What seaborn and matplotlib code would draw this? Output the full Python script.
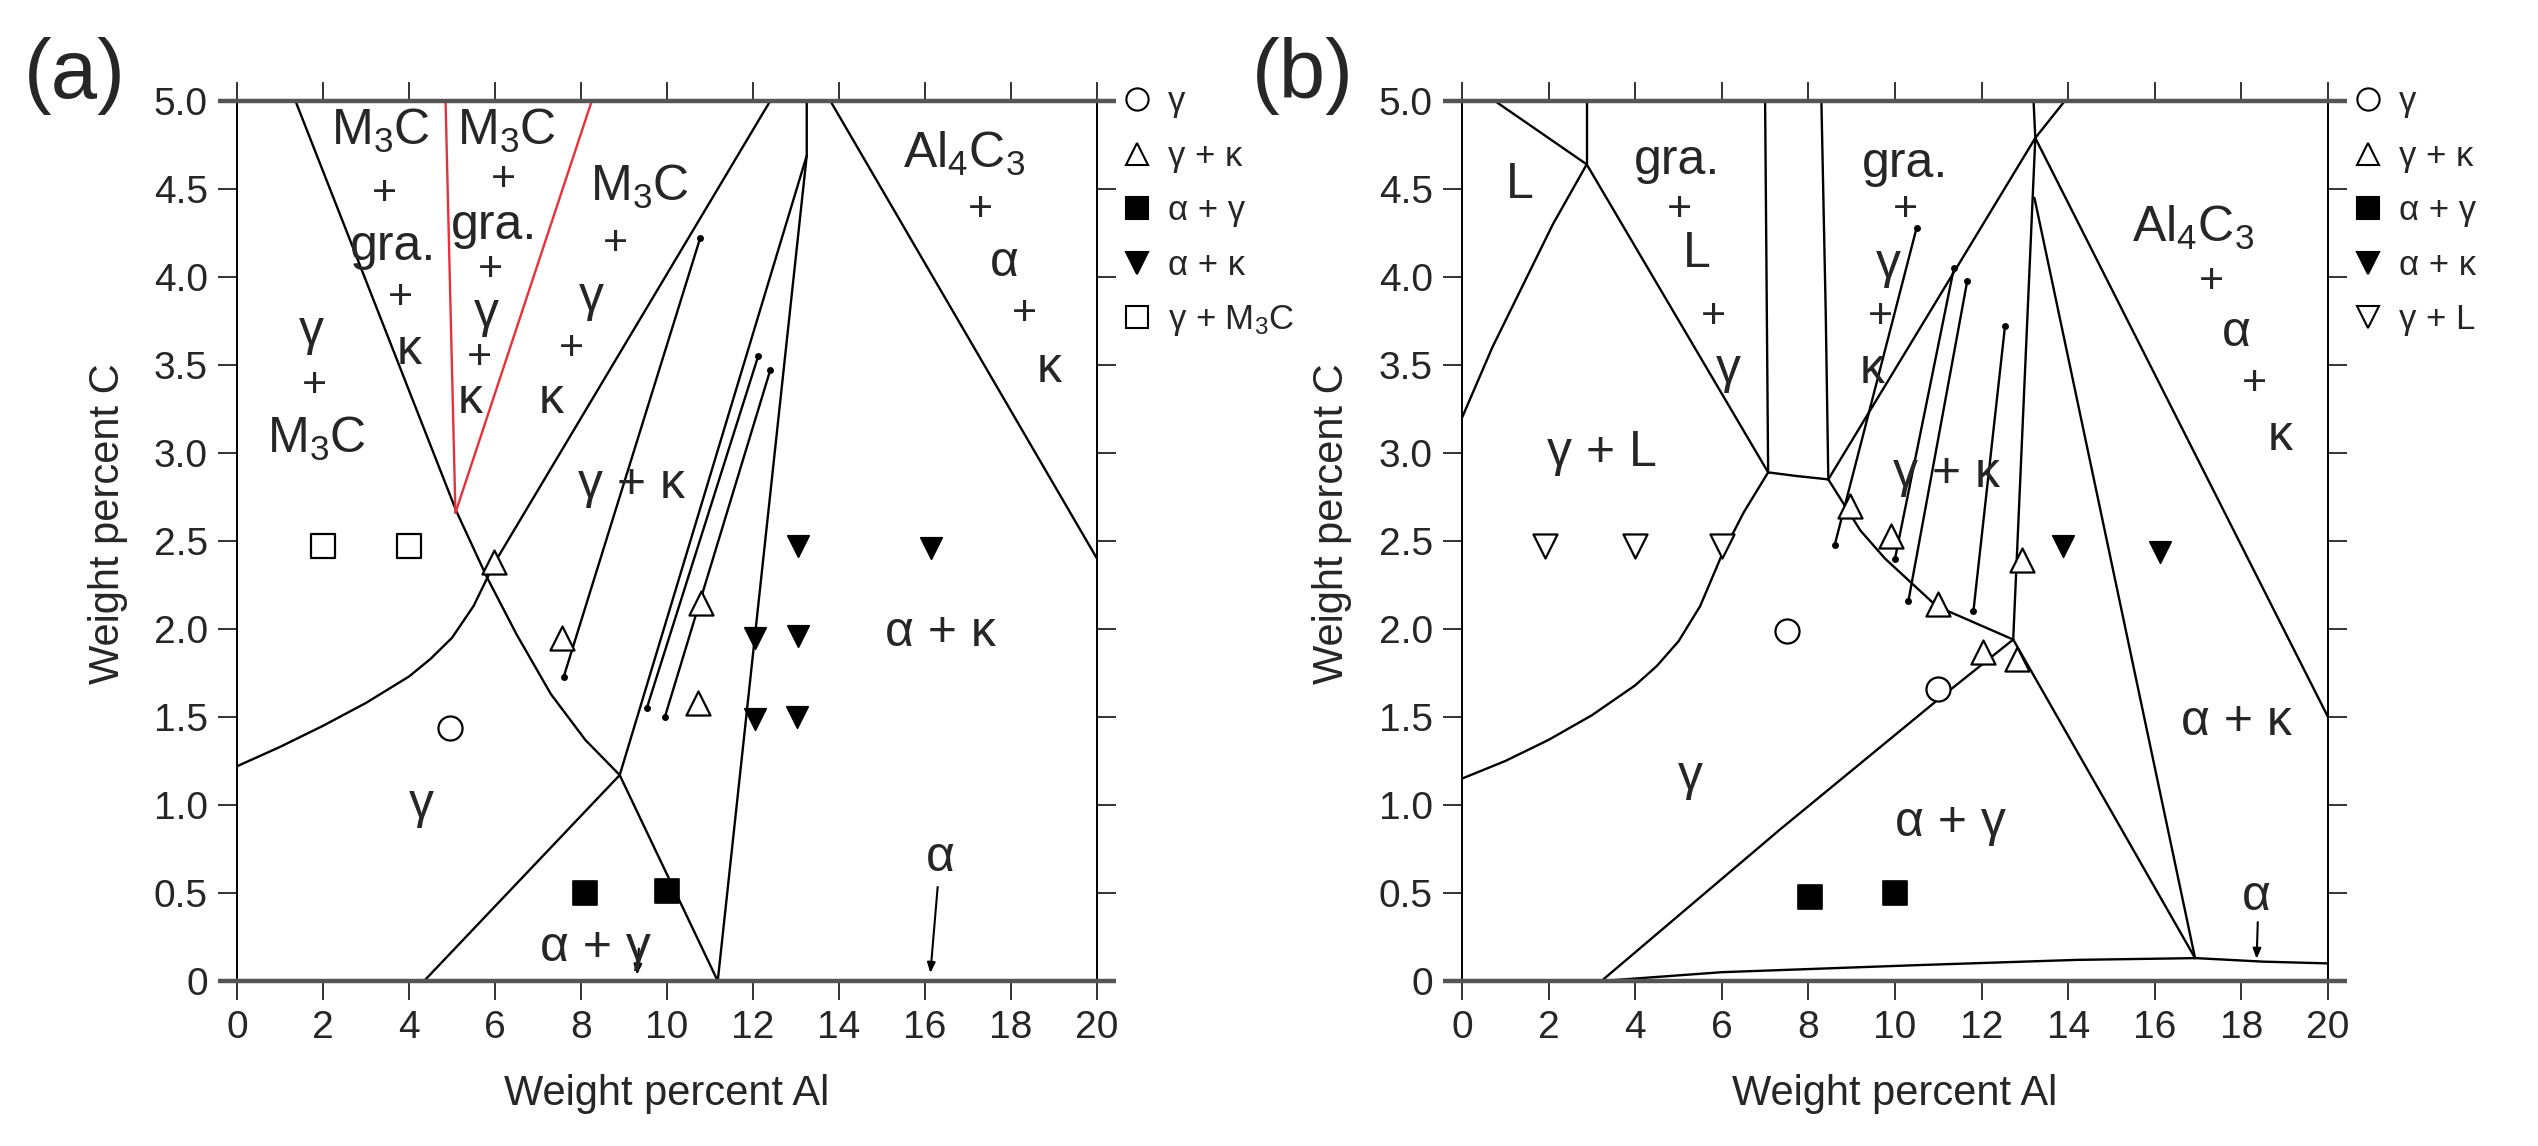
import numpy as np
import matplotlib
matplotlib.use("Agg")
import matplotlib.pyplot as plt
import seaborn as sns
from matplotlib.lines import Line2D

# ---------------- data: panel (a) ----------------
A_GAM_X = [0, 1, 2, 3, 4, 4.5, 5.0, 5.5, 6.0, 12.4]
A_GAM_Y = [1.22, 1.33, 1.45, 1.58, 1.73, 1.83, 1.95, 2.13, 2.38, 5.0]
A_M3C_X = [1.36, 5.1, 5.8, 6.5, 7.3, 8.1, 8.9, 11.18]
A_M3C_Y = [5.0, 2.67, 2.3, 1.97, 1.63, 1.37, 1.17, 0.0]
A_AG_X = [4.35, 8.9, 13.25]
A_AG_Y = [0.0, 1.17, 4.69]
A_ALPHA_X = [11.18, 13.25, 13.25]
A_ALPHA_Y = [0.0, 4.69, 5.0]
A_AL4C3_X = [13.8, 20.0]
A_AL4C3_Y = [5.0, 2.4]
A_RED1_X = [5.08, 4.85]
A_RED1_Y = [2.66, 5.0]
A_RED2_X = [5.08, 8.25]
A_RED2_Y = [2.66, 5.0]
A_TIE1_X = [7.6, 10.77]
A_TIE1_Y = [1.73, 4.22]
A_TIE2_X = [9.53, 12.12]
A_TIE2_Y = [1.55, 3.55]
A_TIE3_X = [9.95, 12.40]
A_TIE3_Y = [1.50, 3.47]

A_G_X = [4.95]
A_G_Y = [1.44]
A_GK_X = [5.98, 7.55, 10.8, 10.73]
A_GK_Y = [2.38, 1.95, 2.15, 1.58]
A_AGM_X = [8.1, 10.0]
A_AGM_Y = [0.5, 0.51]
A_AK_X = [13.05, 16.15, 12.05, 13.05, 12.05, 13.02]
A_AK_Y = [2.47, 2.46, 1.95, 1.96, 1.49, 1.50]
A_GM_X = [2.0, 4.0]
A_GM_Y = [2.47, 2.47]

A_TEXT = [
    (3.34, 4.83, r"$\mathregular{M_3C}$"), (3.43, 4.47, "+"), (3.62, 4.17, "gra."),
    (3.81, 3.88, "+"), (4.0, 3.58, "κ"),
    (6.26, 4.83, r"$\mathregular{M_3C}$"), (6.2, 4.55, "+"), (5.98, 4.29, "gra."),
    (5.89, 4.04, "+"), (5.79, 3.79, "γ"), (5.64, 3.54, "+"), (5.41, 3.30, "κ"),
    (9.37, 4.51, r"$\mathregular{M_3C}$"), (8.8, 4.19, "+"), (8.24, 3.88, "γ"),
    (7.77, 3.59, "+"), (7.3, 3.30, "κ"),
    (1.74, 3.69, "γ"), (1.8, 3.38, "+"), (1.84, 3.08, r"$\mathregular{M_3C}$"),
    (16.9, 4.70, r"$\mathregular{Al_4C_3}$"), (17.28, 4.38, "+"), (17.85, 4.08, "α"),
    (18.32, 3.79, "+"), (18.88, 3.48, "κ"),
    (9.18, 2.82, "γ + κ"), (16.35, 1.98, "α + κ"), (4.28, 1.0, "γ"),
    (8.33, 0.19, "α + γ"), (16.35, 0.70, "α"),
]
A_ARROWS = [((16.3, 0.55), (16.12, 0.03)), ((9.35, 0.2), (9.3, 0.02))]

# ---------------- data: panel (b) ----------------
B_TL_X = [0.76, 2.88]
B_TL_Y = [5.0, 4.64]
B_V1_X = [2.88, 2.88]
B_V1_Y = [5.0, 4.64]
B_L_X = [0, 0.7, 1.4, 2.1, 2.88]
B_L_Y = [3.2, 3.6, 3.95, 4.3, 4.64]
B_GL_X = [2.88, 7.07]
B_GL_Y = [4.64, 2.89]
B_V2_X = [7.0, 7.07]
B_V2_Y = [5.0, 2.89]
B_SH_X = [7.07, 7.7, 8.46]
B_SH_Y = [2.89, 2.87, 2.85]
B_V3_X = [8.3, 8.4, 8.46]
B_V3_Y = [5.0, 3.8, 2.85]
B_GAM_X = [0, 1, 2, 3, 4, 4.5, 5, 5.5, 6, 6.5, 7.07]
B_GAM_Y = [1.15, 1.25, 1.37, 1.51, 1.68, 1.79, 1.93, 2.13, 2.42, 2.66, 2.89]
B_GK_X = [8.46, 13.24, 13.92]
B_GK_Y = [2.85, 4.79, 5.0]
B_GK2_X = [8.46, 9.2, 9.77, 10.96, 12.73]
B_GK2_Y = [2.85, 2.56, 2.4, 2.13, 1.94]
B_AG_X = [3.22, 7.34, 11.0, 12.73]
B_AG_Y = [0.0, 0.86, 1.6, 1.94]
B_AGR_X = [12.73, 16.93]
B_AGR_Y = [1.94, 0.13]
B_I_X = [12.73, 13.24, 13.2]
B_I_Y = [1.94, 4.79, 5.0]
B_II_X = [13.22, 16.93]
B_II_Y = [4.45, 0.13]
B_AL4C3_X = [13.24, 20.0]
B_AL4C3_Y = [4.79, 1.5]
B_BOT_X = [3.22, 6, 10.5, 14.2, 16.95, 18.5, 20]
B_BOT_Y = [0.0, 0.05, 0.09, 0.12, 0.13, 0.11, 0.1]
B_TIE1_X = [8.61, 10.5]
B_TIE1_Y = [2.48, 4.28]
B_TIE2_X = [10.0, 11.36]
B_TIE2_Y = [2.4, 4.05]
B_TIE3_X = [10.31, 11.67]
B_TIE3_Y = [2.16, 3.98]
B_TIE4_X = [11.81, 12.54]
B_TIE4_Y = [2.10, 3.72]

B_G_X = [7.5, 11.0]
B_G_Y = [1.99, 1.66]
B_GK_MX = [8.96, 9.9, 11.0, 12.04, 12.81, 12.93]
B_GK_MY = [2.70, 2.53, 2.14, 1.87, 1.83, 2.39]
B_AGM_X = [8.04, 10.0]
B_AGM_Y = [0.48, 0.5]
B_AK_X = [13.89, 16.12]
B_AK_Y = [2.47, 2.44]
B_GLM_X = [1.92, 4.0, 6.0]
B_GLM_Y = [2.47, 2.47, 2.47]

B_TEXT = [
    (1.34, 4.52, "L"),
    (4.96, 4.66, "gra."), (5.03, 4.38, "+"), (5.42, 4.13, "L"), (5.80, 3.77, "+"), (6.15, 3.47, "γ"),
    (3.23, 3.0, "γ + L"),
    (10.23, 4.64, "gra."), (10.23, 4.38, "+"), (9.85, 4.07, "γ"), (9.66, 3.77, "+"), (9.48, 3.47, "κ"),
    (11.19, 2.88, "γ + κ"),
    (16.89, 4.28, r"$\mathregular{Al_4C_3}$"), (17.31, 3.97, "+"), (17.89, 3.68, "α"),
    (18.31, 3.39, "+"), (18.89, 3.09, "κ"),
    (17.88, 1.47, "α + κ"), (5.28, 1.16, "γ"), (11.27, 0.9, "α + γ"), (18.35, 0.48, "α"),
]
B_ARROWS = [((18.38, 0.35), (18.35, 0.11))]

X_TICKS = list(range(0, 21, 2))
Y_TICKS = [0, 0.5, 1.0, 1.5, 2.0, 2.5, 3.0, 3.5, 4.0, 4.5, 5.0]
Y_TICKLABELS = ["0", "0.5", "1.0", "1.5", "2.0", "2.5", "3.0", "3.5", "4.0", "4.5", "5.0"]

LEG_A = ["γ", "γ + κ", "α + γ", "α + κ", r"γ + $\mathregular{M_3C}$"]
LEG_B = ["γ", "γ + κ", "α + γ", "α + κ", "γ + L"]

# ---------------- style ----------------
sns.set_theme(style="ticks")
plt.rcParams["font.family"] = ["Liberation Sans", "DejaVu Sans"]
plt.rcParams["mathtext.fontset"] = "custom"
plt.rcParams["mathtext.rm"] = "Liberation Sans"

W, H = 2538, 1146
fig = plt.figure(figsize=(W / 100, H / 100), dpi=100)
fig.patch.set_facecolor("white")
axA = fig.add_axes([237 / W, (H - 981) / H, 860 / W, 880 / H])
axB = fig.add_axes([1462 / W, (H - 981) / H, 866 / W, 880 / H])

LW = 1.7
MS = 300


def line(ax, xs, ys, color="black", lw=LW, dots=False):
    sns.lineplot(x=xs, y=ys, sort=False, estimator=None, color=color, lw=lw, ax=ax,
                 legend=False, marker="o" if dots else None,
                 markersize=5 if dots else 0, markeredgewidth=0)


def pts(ax, xs, ys, marker, filled, s=MS):
    if filled:
        sns.scatterplot(x=xs, y=ys, marker=marker, s=s, color="black", edgecolor="black",
                        linewidth=1.2, ax=ax, legend=False, zorder=5)
    else:
        sns.scatterplot(x=xs, y=ys, marker=marker, s=s, facecolor="white", edgecolor="black",
                        linewidth=1.6, ax=ax, legend=False, zorder=5)


def frame(ax):
    ax.set_xlim(0, 20)
    ax.set_ylim(0, 5)
    ax.set_facecolor("white")
    for sp in ["top", "bottom"]:
        ax.spines[sp].set_visible(False)
    for sp in ["left", "right"]:
        ax.spines[sp].set_color("black")
        ax.spines[sp].set_linewidth(1.4)
    for yv in (0, 5):
        ax.plot([-0.45, 20.45], [yv, yv], color="#555555", lw=3.2, clip_on=False,
                solid_capstyle="butt", zorder=6)
    ax.set_xticks(X_TICKS)
    ax.set_xticklabels([str(v) for v in X_TICKS])
    ax.set_yticks(Y_TICKS)
    ax.set_yticklabels(Y_TICKLABELS)
    ax.tick_params(axis="both", direction="out", length=14, width=1.4, color="#333333",
                   labelsize=28, top=True, right=True, labeltop=False, labelright=False,
                   pad=7)
    ax.set_xlabel("Weight percent Al", fontsize=30, va="center")
    ax.xaxis.set_label_coords(0.5, -0.128)
    ax.set_ylabel("Weight percent C", fontsize=30, va="center", ha="center")
    ax.yaxis.set_label_coords(-0.150, 0.52)


def texts(ax, items):
    for x, y, s in items:
        fs = 31 if s == "+" else 36
        ax.text(x, y, s, ha="center", va="center", fontsize=fs, zorder=4)


def arrows(ax, items):
    for (x0, y0), (x1, y1) in items:
        ax.annotate("", xy=(x1, y1), xytext=(x0, y0),
                    arrowprops=dict(arrowstyle="-|>,head_length=0.5,head_width=0.2",
                                    color="black", lw=1.5))


def legend(ax, labels, last_marker, last_filled):
    specs = [("o", False), ("^", False), ("s", True), ("v", True), (last_marker, last_filled)]
    handles = []
    for m, f in specs:
        handles.append(Line2D([], [], ls="", marker=m, markersize=16,
                              markerfacecolor="black" if f else "white",
                              markeredgecolor="black", markeredgewidth=1.5))
    ax.legend(handles, labels, loc="upper left", bbox_to_anchor=(1.03, 1.018), frameon=False,
              fontsize=25, handlelength=0.8, handletextpad=0.5, labelspacing=0.62,
              borderpad=0, borderaxespad=0)


# ---------------- panel (a) ----------------
frame(axA)
for xs, ys in [(A_GAM_X, A_GAM_Y), (A_M3C_X, A_M3C_Y), (A_AG_X, A_AG_Y),
               (A_ALPHA_X, A_ALPHA_Y), (A_AL4C3_X, A_AL4C3_Y)]:
    line(axA, xs, ys)
for xs, ys in [(A_RED1_X, A_RED1_Y), (A_RED2_X, A_RED2_Y)]:
    line(axA, xs, ys, color="#e8303a")
for xs, ys in [(A_TIE1_X, A_TIE1_Y), (A_TIE2_X, A_TIE2_Y), (A_TIE3_X, A_TIE3_Y)]:
    line(axA, xs, ys, dots=True)
pts(axA, A_G_X, A_G_Y, "o", False)
pts(axA, A_GK_X, A_GK_Y, "^", False)
pts(axA, A_AGM_X, A_AGM_Y, "s", True)
pts(axA, A_AK_X, A_AK_Y, "v", True, s=240)
pts(axA, A_GM_X, A_GM_Y, "s", False)
texts(axA, A_TEXT)
arrows(axA, A_ARROWS)
legend(axA, LEG_A, "s", False)

# ---------------- panel (b) ----------------
frame(axB)
for xs, ys in [(B_TL_X, B_TL_Y), (B_V1_X, B_V1_Y), (B_L_X, B_L_Y), (B_GL_X, B_GL_Y),
               (B_V2_X, B_V2_Y), (B_SH_X, B_SH_Y), (B_V3_X, B_V3_Y), (B_GAM_X, B_GAM_Y),
               (B_GK_X, B_GK_Y), (B_GK2_X, B_GK2_Y), (B_AG_X, B_AG_Y), (B_AGR_X, B_AGR_Y),
               (B_I_X, B_I_Y), (B_II_X, B_II_Y), (B_AL4C3_X, B_AL4C3_Y), (B_BOT_X, B_BOT_Y)]:
    line(axB, xs, ys)
for xs, ys in [(B_TIE1_X, B_TIE1_Y), (B_TIE2_X, B_TIE2_Y), (B_TIE3_X, B_TIE3_Y),
               (B_TIE4_X, B_TIE4_Y)]:
    line(axB, xs, ys, dots=True)
pts(axB, B_G_X, B_G_Y, "o", False)
pts(axB, B_GK_MX, B_GK_MY, "^", False)
pts(axB, B_AGM_X, B_AGM_Y, "s", True)
pts(axB, B_AK_X, B_AK_Y, "v", True, s=240)
pts(axB, B_GLM_X, B_GLM_Y, "v", False)
texts(axB, B_TEXT)
arrows(axB, B_ARROWS)
legend(axB, LEG_B, "v", False)

fig.text(24 / W, 1 - 76 / H, "(a)", fontsize=60, ha="left", va="center")
fig.text(1252 / W, 1 - 76 / H, "(b)", fontsize=60, ha="left", va="center")

fig.savefig("out.png", dpi=100, facecolor="white")
